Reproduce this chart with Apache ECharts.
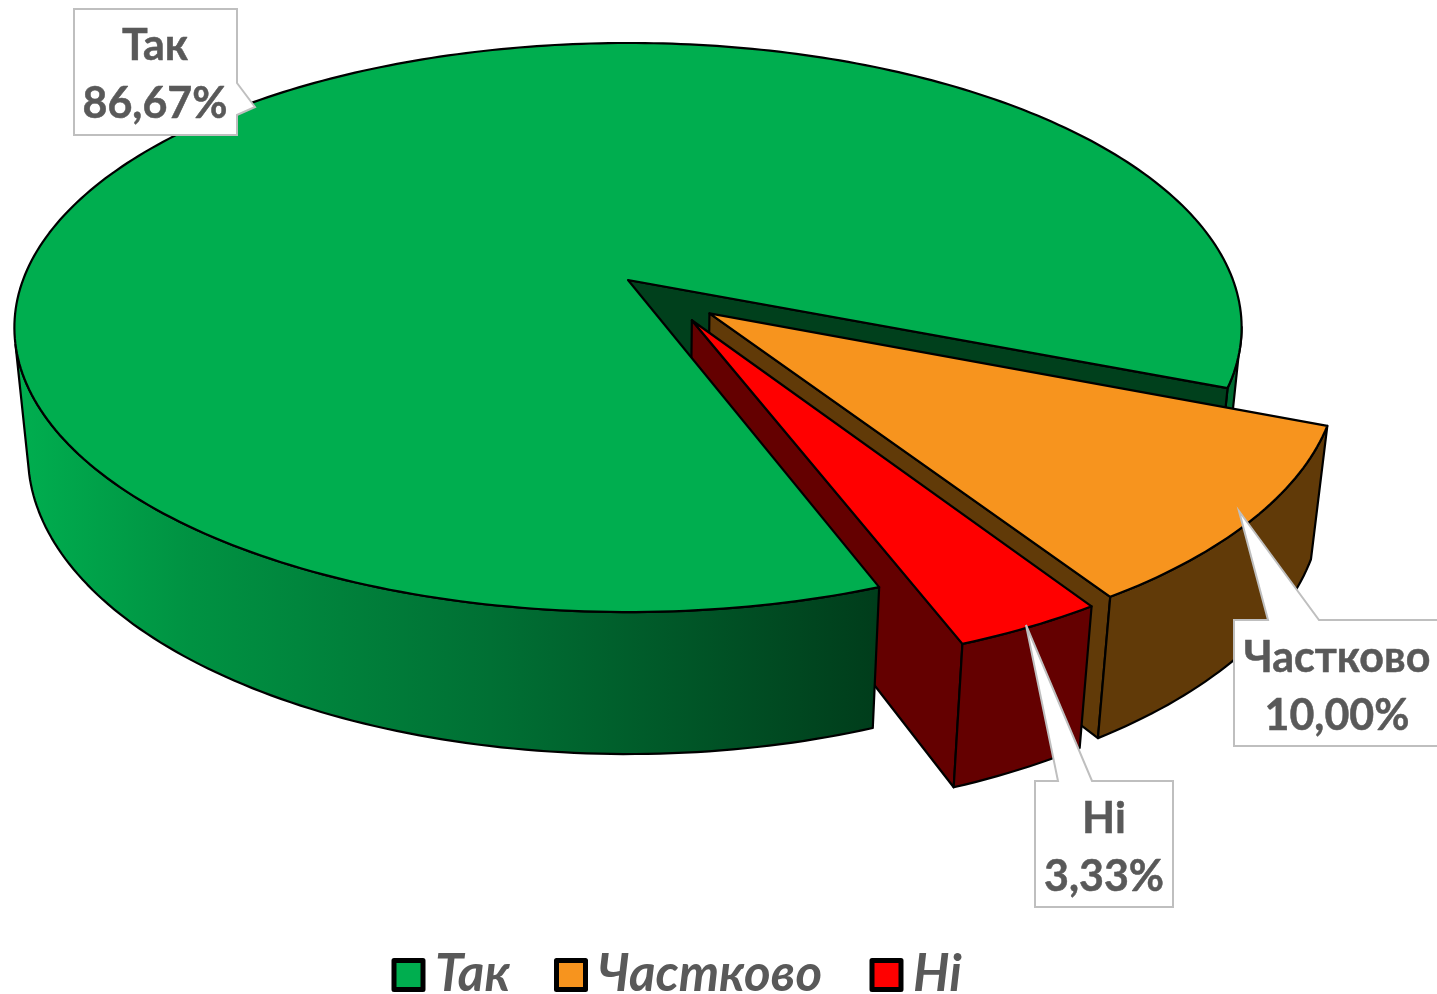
<!DOCTYPE html>
<html>
<head>
<meta charset="utf-8">
<title>Pie</title>
<style>
  html, body { margin: 0; padding: 0; background: #fff; }
  #chart { width: 1437px; height: 994px; }
</style>
<script src="https://cdn.jsdelivr.net/npm/echarts@6/dist/echarts.min.js"></script>
</head>
<body>
<div id="chart"></div>
<script>
const categories = ['Так', 'Частково', 'Ні'];
const percents = [86.67, 10.00, 3.33];

// look of the slices
const topColors = ['#00ae4f', '#f7941e', '#ff0000'];
const wallColors = ['#00401c', '#613a08', '#640000'];
const textColor = '#595959';
const edge = { stroke: '#000', lineWidth: 2.2, lineJoin: 'round' };

// perspective camera of the pie, fitted to the picture
const cam = { cx: 628, cy: 280, a: 605, b: 276.6, c: 128.7, k: 0.167, e: 0.022 };
const firstAngle = 69.5;
// how far each slice is pulled out, in units of the radius
const explode = [[0, 0], [0.132, 0.118], [0.103, 0.142]];

// callout outlines, in pixels
const callouts = [
    { x: 155, y1: 46, y2: 104, outline: [[74, 9], [237, 9], [237, 83], [255, 107], [237, 115], [237, 135], [74, 135]] },
    { x: 1337, y1: 658, y2: 716, outline: [[1234, 620], [1268, 620], [1239, 511], [1319, 620], [1440, 620], [1440, 746], [1234, 746]] },
    { x: 1104, y1: 819, y2: 877, outline: [[1035, 781], [1058, 781], [1026, 625], [1092, 781], [1173, 781], [1173, 907], [1035, 907]] }
];
const legendLefts = [391.5, 554, 869.5];

function project(u, v, z) {
    const w = 1 - cam.k * v + cam.e * z;
    return [cam.cx + cam.a * u / w, cam.cy + (cam.b * v + cam.c * z) / w];
}

// start and end angle of every slice, clockwise on screen
const spans = [];
let running = firstAngle;
percents.forEach(p => {
    spans.push([running, running + p * 3.6]);
    running += p * 3.6;
});

function rim(i, deg, z) {
    const t = deg * Math.PI / 180;
    return project(explode[i][0] + Math.cos(t), explode[i][1] + Math.sin(t), z);
}

function arc(i, from, to, z) {
    const pts = [];
    const n = Math.max(2, Math.ceil(Math.abs(to - from)));
    for (let s = 0; s <= n; s++) {
        pts.push(rim(i, from + (to - from) * s / n, z));
    }
    return pts;
}

function poly(points, fill) {
    return { type: 'polygon', shape: { points: points }, style: Object.assign({ fill: fill }, edge) };
}

function topFace(i) {
    const tip = project(explode[i][0], explode[i][1], 0);
    return poly([tip].concat(arc(i, spans[i][0], spans[i][1], 0)), topColors[i]);
}

function cutWall(i, deg, fill) {
    const tip0 = project(explode[i][0], explode[i][1], 0);
    const tip1 = project(explode[i][0], explode[i][1], 1);
    return poly([tip0, rim(i, deg, 0), rim(i, deg, 1), tip1], fill || wallColors[i]);
}

function outerWall(i, from, to, fill) {
    return poly(arc(i, from, to, 0).concat(arc(i, to, from, 1)), fill || wallColors[i]);
}

const frontWallFill = new echarts.graphic.LinearGradient(20, 0, 875, 0, [
    { offset: 0, color: '#00ae4f' },
    { offset: 0.2, color: '#009242' },
    { offset: 0.55, color: '#007034' },
    { offset: 1, color: '#003d1b' }
], true);

function sliceSeries(i, z, faces) {
    return {
        type: 'custom',
        name: categories[i],
        coordinateSystem: 'none',
        silent: true,
        z: z,
        itemStyle: { color: topColors[i] },
        data: [percents[i]],
        renderItem: () => ({ type: 'group', children: faces() })
    };
}

const mainEnd = spans[0][1];

const option = {
    animation: false,
    backgroundColor: '#fff',
    legend: categories.map((name, i) => ({
        data: [name],
        left: legendLefts[i],
        top: 949.5,
        padding: 0,
        icon: 'rect',
        itemWidth: 29,
        itemHeight: 29,
        selectedMode: false,
        itemStyle: { borderColor: '#000', borderWidth: 5, borderJoin: 'round' },
        textStyle: { color: textColor, fontFamily: 'Lato', fontStyle: 'italic', fontWeight: 'bold', fontSize: 51, padding: [0, 0, 0, 7] }
    })),
    series: [
        // back part of the big slice: it sits behind the pulled out slices
        sliceSeries(0, 1, () => [
            outerWall(0, mainEnd - 12, mainEnd, '#006a31'),
            cutWall(0, mainEnd)
        ]),
        sliceSeries(1, 2, () => [
            cutWall(1, spans[1][1]),
            outerWall(1, spans[1][0], spans[1][1]),
            topFace(1)
        ]),
        sliceSeries(2, 3, () => [
            cutWall(2, spans[2][1]),
            outerWall(2, spans[2][0], spans[2][1]),
            topFace(2)
        ]),
        // front part of the big slice covers the red wall
        sliceSeries(0, 4, () => [
            outerWall(0, spans[0][0], 167, frontWallFill),
            topFace(0)
        ]),
        {
            type: 'custom',
            name: 'callouts',
            coordinateSystem: 'none',
            silent: true,
            z: 5,
            data: percents,
            renderItem: (params, api) => {
                const c = callouts[params.dataIndex];
                const label = api.value(0).toFixed(2).replace('.', ',') + '%';
                const textStyle = { fill: textColor, stroke: textColor, lineWidth: 0.5, align: 'center', verticalAlign: 'middle', font: 'bold 43px Lato' };
                return {
                    type: 'group',
                    children: [
                        { type: 'polygon', shape: { points: c.outline }, style: { fill: '#fff', stroke: '#bfbfbf', lineWidth: 2 } },
                        { type: 'text', style: Object.assign({ text: categories[params.dataIndex], x: c.x, y: c.y1 }, textStyle) },
                        { type: 'text', style: Object.assign({ text: label, x: c.x, y: c.y2 }, textStyle) }
                    ]
                };
            }
        }
    ]
};

const chart = echarts.init(document.getElementById('chart'));
chart.setOption(option);
</script>
</body>
</html>
